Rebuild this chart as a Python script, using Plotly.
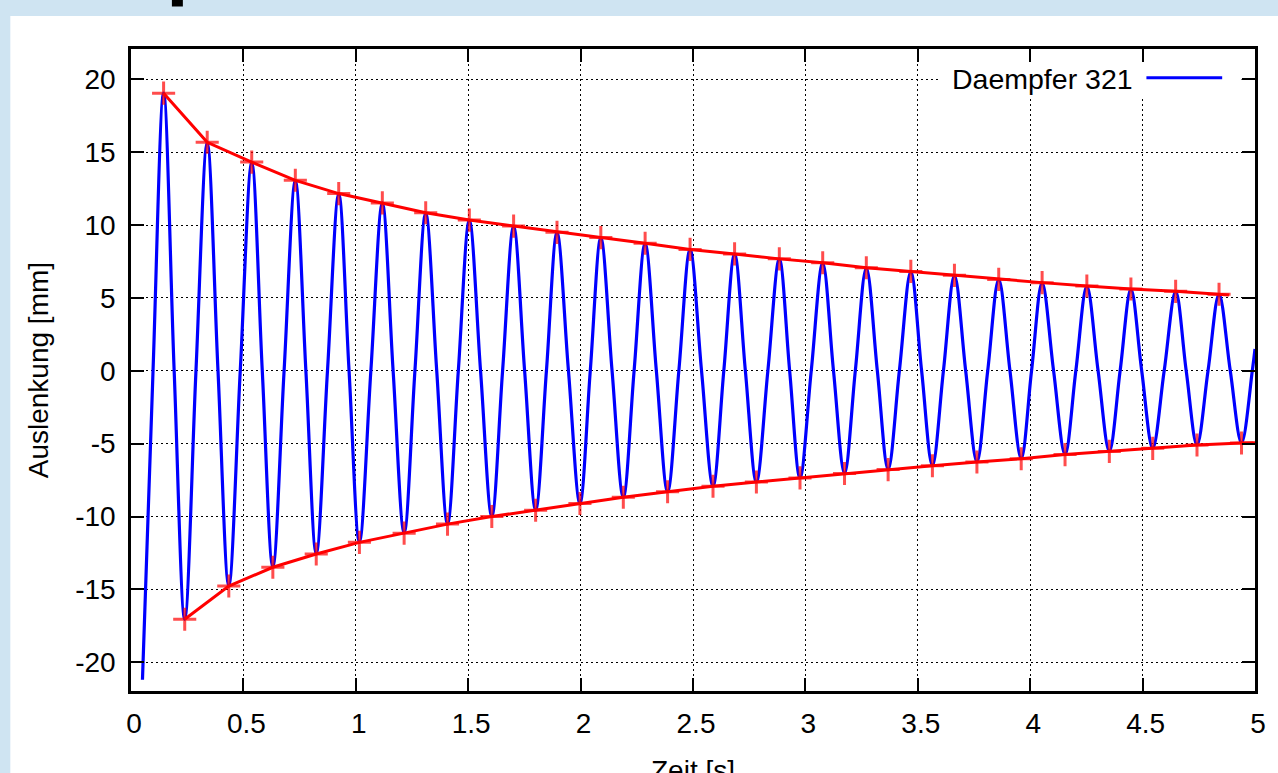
import plotly.graph_objects as go

# ---- data ----
peak_t = [0.145, 0.339, 0.537, 0.731, 0.924, 1.118, 1.311, 1.505, 1.702, 1.895, 2.090, 2.287, 2.487,
          2.685, 2.884, 3.077, 3.271, 3.469, 3.663, 3.860, 4.053, 4.252, 4.448, 4.647, 4.840]
peak_v = [19.05, 15.68, 14.32, 13.07, 12.16, 11.52, 10.84, 10.34, 9.93, 9.50, 9.14, 8.75, 8.33,
          8.02, 7.68, 7.41, 7.07, 6.82, 6.55, 6.27, 6.05, 5.82, 5.61, 5.45, 5.25]
trough_t = [0.239, 0.435, 0.631, 0.824, 1.016, 1.215, 1.408, 1.605, 1.800, 1.997, 2.190, 2.387, 2.589,
            2.782, 2.976, 3.174, 3.368, 3.565, 3.763, 3.960, 4.155, 4.352, 4.545, 4.742, 4.940]
trough_v = [-17.05, -14.77, -13.48, -12.57, -11.77, -11.14, -10.52, -10.00, -9.57, -9.11, -8.68, -8.30, -7.92,
            -7.63, -7.35, -7.05, -6.78, -6.51, -6.26, -6.03, -5.75, -5.53, -5.32, -5.09, -4.95]
zero_t = [0.098, 0.192, 0.289, 0.387, 0.486, 0.584, 0.681, 0.778, 0.874, 0.970,
          1.067, 1.166, 1.263, 1.360, 1.456, 1.555, 1.653, 1.751, 1.848, 1.946,
          2.043, 2.140, 2.238, 2.337, 2.437, 2.538, 2.637, 2.733, 2.833, 2.930,
          3.026, 3.125, 3.222, 3.320, 3.418, 3.517, 3.614, 3.713, 3.811, 3.910,
          4.006, 4.104, 4.203, 4.302, 4.400, 4.496, 4.596, 4.694, 4.791, 4.890, 4.988]
blue_start = (0.051, -21.2)
blue_end = (5.0, 1.5)
upper_line_end = (4.884, 5.20)
lower_line_end = (5.0, -4.93)

x_ticks = [0, 0.5, 1, 1.5, 2, 2.5, 3, 3.5, 4, 4.5, 5]
x_tick_labels = ["0", "0.5", "1", "1.5", "2", "2.5", "3", "3.5", "4", "4.5", "5"]
y_ticks = [-20, -15, -10, -5, 0, 5, 10, 15, 20]
y_tick_labels = ["-20", "-15", "-10", "-5", "0", "5", "10", "15", "20"]

series_name = "Daempfer 321"
x_title = "Zeit [s]"
y_title = "Auslenkung [mm]"

# ---- build blue curve from read extrema and zero crossings ----
pts = [blue_start, blue_end]
pts += list(zip(peak_t, peak_v)) + list(zip(trough_t, trough_v))
pts += [(t, 0.0) for t in zero_t]
pts.sort(key=lambda p: p[0])
blue_t = [p[0] for p in pts]
blue_v = [p[1] for p in pts]

FONT = "Liberation Sans, Arial, Helvetica, sans-serif"
RED = "#ff0000"
BLUE = "#0000ff"

fig = go.Figure()
fig.add_trace(go.Scatter(x=blue_t, y=blue_v, mode="lines", name=series_name,
                         line=dict(color=BLUE, width=3.2, shape="spline", smoothing=1.0),
                         hoverinfo="skip"))

up_x = peak_t + [upper_line_end[0]]
up_y = peak_v + [upper_line_end[1]]
lo_x = trough_t + [lower_line_end[0]]
lo_y = trough_v + [lower_line_end[1]]
for xs, ys in ((up_x, up_y), (lo_x, lo_y)):
    sizes = [16.5] * (len(xs) - 1) + [0]
    fig.add_trace(go.Scatter(x=xs, y=ys, mode="lines+markers", showlegend=False,
                             line=dict(color=RED, width=3),
                             marker=dict(symbol="cross-thin-open", size=sizes,
                                         color=RED, line=dict(color=RED, width=3)),
                             hoverinfo="skip"))

L, R, T, B = 131, 20, 49, 82
W, H = 1278, 773
pw, ph = W - L - R, H - T - B

def px_x(p):
    return (p - L) / pw

def px_y(p):
    return (H - B - p) / ph

axis_common = dict(ticks="inside", ticklen=13, tickwidth=2, tickcolor="black",
                   showline=True, linewidth=2.5, linecolor="black", mirror="ticks",
                   showgrid=True, gridcolor="black", gridwidth=1, griddash="2px,3px",
                   zeroline=False, tickfont=dict(family=FONT, size=28, color="black"))

fig.update_xaxes(range=[0, 5], tickvals=x_ticks, ticktext=x_tick_labels,
                 ticklabelstandoff=6, ticklabelshift=3, **axis_common)
fig.update_yaxes(range=[-21.97, 22.08], tickvals=y_ticks, ticktext=y_tick_labels,
                 ticklabelstandoff=7, **axis_common)

shapes = [
    # white panel
    dict(type="rect", xref="paper", yref="paper", x0=px_x(10), x1=px_x(1290),
         y0=px_y(790), y1=px_y(16), fillcolor="white", line=dict(width=0), layer="below"),
    # cut-off glyph at the top
    dict(type="rect", xref="paper", yref="paper", x0=px_x(172), x1=px_x(183),
         y0=px_y(6.5), y1=px_y(-2), fillcolor="black", line=dict(width=0), layer="above"),
    # key box (hides grid)
    dict(type="rect", xref="x", yref="y", x0=3.597, x1=4.94, y0=18.85, y1=21.15,
         fillcolor="white", line=dict(width=0), layer="above"),
    # key sample line
    dict(type="line", xref="x", yref="y", x0=4.517, x1=4.854, y0=20.1, y1=20.1,
         line=dict(color=BLUE, width=3), layer="above"),
]

annotations = [
    dict(text=series_name, xref="x", yref="y", x=4.465, y=20.0, xanchor="right", yanchor="middle",
         showarrow=False, font=dict(family=FONT, size=28.5, color="black")),
    dict(text=y_title, xref="paper", yref="paper", x=px_x(38), y=0.5, xanchor="center",
         yanchor="middle", textangle=-90, showarrow=False,
         font=dict(family=FONT, size=28, color="black")),
    dict(text=x_title, xref="paper", yref="paper", x=px_x(695), y=px_y(753), xanchor="center",
         yanchor="top", showarrow=False, font=dict(family=FONT, size=28, color="black")),
]

fig.update_layout(width=W, height=H, margin=dict(l=L, r=R, t=T, b=B, pad=0),
                  paper_bgcolor="#cfe4f2", plot_bgcolor="white", showlegend=False,
                  font=dict(family=FONT, size=28, color="black"),
                  shapes=shapes, annotations=annotations)

fig.write_html("out.html")
